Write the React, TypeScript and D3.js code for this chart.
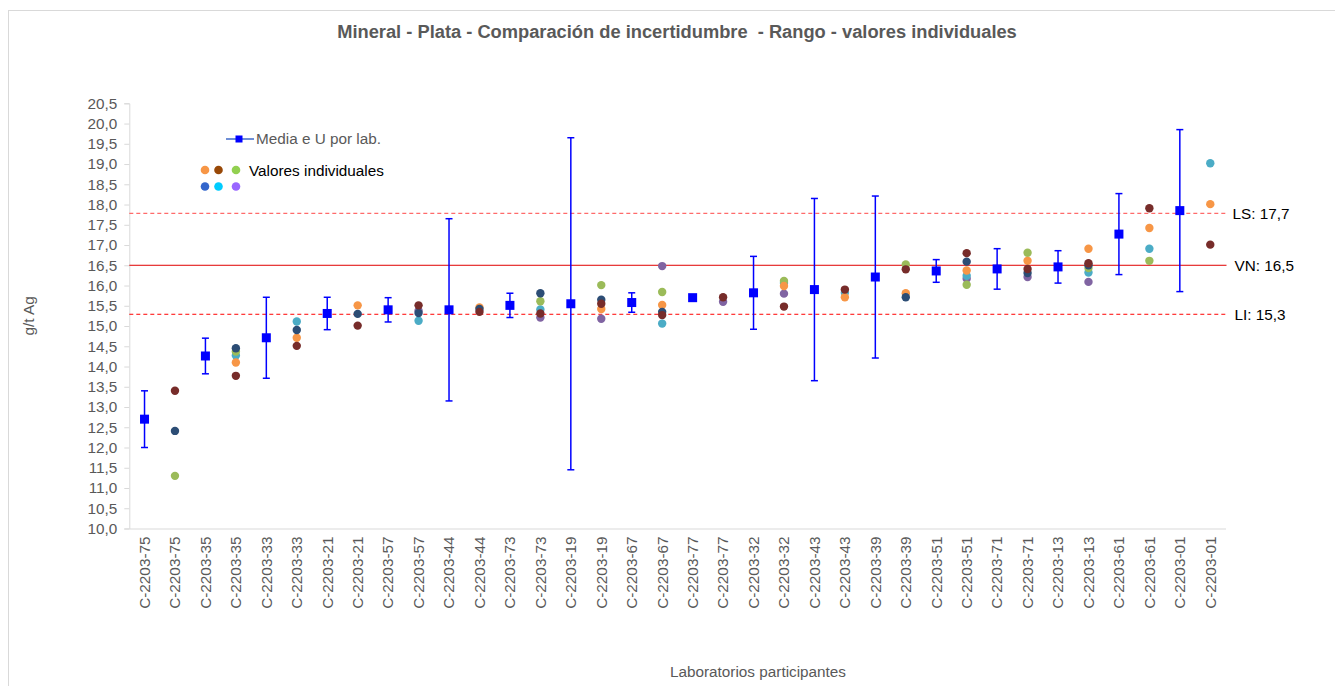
import React, { useRef, useEffect } from 'react'
import * as d3 from 'd3'

// laboratorios (cada uno aparece dos veces: media+U y valores individuales)
const labs = ['75', '35', '33', '21', '57', '44', '73', '19', '67', '77', '32', '43', '39', '51', '71', '13', '61', '01']
const means = [12.7, 14.26, 14.71, 15.31, 15.4, 15.4, 15.51, 15.55, 15.58, 15.7, 15.82, 15.9, 16.21, 16.36, 16.41, 16.46, 17.27, 17.85]
const uncert = [0.7, 0.44, 1.0, 0.4, 0.3, 2.25, 0.3, 4.1, 0.24, 0.04, 0.9, 2.25, 2.0, 0.28, 0.5, 0.4, 1.0, 2.0]

// valores individuales por serie (null = sin dato)
const valsOrange = [null, 14.1, 14.71, 15.51, null, 15.46, null, 15.42, 15.52, null, 15.99, 15.71, 15.81, 16.37, 16.61, 16.91, 17.42, 18.01]
const valsBrown = [13.4, 13.77, 14.51, 15.01, 15.51, 15.35, 15.31, 15.55, 15.27, 15.71, 15.48, 15.9, 16.4, 16.8, 16.41, 16.55, 17.91, 17.01]
const valsGreen = [11.3, 14.37, null, null, null, null, 15.61, 16.01, 15.84, null, 16.11, null, 16.52, 16.02, 16.81, 16.43, 16.61, null]
const valsNavy = [12.41, 14.45, 14.9, 15.3, 15.32, 15.42, 15.81, 15.65, 15.35, null, null, null, 15.71, 16.59, 16.31, 16.5, null, null]
const valsCyan = [null, 14.27, 15.11, null, 15.13, null, 15.41, null, 15.06, null, 16.06, 15.82, null, 16.24, null, 16.32, 16.91, 19.02]
const valsPurple = [null, null, null, null, 15.38, null, 15.21, 15.18, 16.48, 15.6, 15.8, null, null, 16.17, 16.21, 16.09, null, null]

const series = [
  { vals: valsPurple, color: '#8064A2' },
  { vals: valsCyan, color: '#4BACC6' },
  { vals: valsGreen, color: '#9BBB59' },
  { vals: valsOrange, color: '#F79646' },
  { vals: valsNavy, color: '#2C4D75' },
  { vals: valsBrown, color: '#772C2A' },
]

const legendDots = ['#F79646', '#984807', '#92D050', '#3366CC', '#00CCFF', '#9966FF']

const VN = 16.5
const LS = 17.78
const LI = 15.29
const yTicks = d3.range(10, 20.51, 0.5)

const fmt = (v: number) => v.toFixed(1).replace('.', ',')

const W = 1335
const H = 686
const margin = { top: 103.3, left: 129.3, right: 1335 - 1225.5, bottom: 686 - 528.5 }
const FS = 15.3

export default function App() {
  const axRef = useRef<SVGGElement>(null)
  const cats = labs.flatMap((l, i) => [{ key: 'm' + i, lab: 'C-2203-' + l }, { key: 'v' + i, lab: 'C-2203-' + l }])

  const x = d3.scaleBand().domain(cats.map(c => c.key)).range([margin.left, W - margin.right])
  const y = d3.scaleLinear().domain([10, 20.5]).range([H - margin.bottom, margin.top])
  const cx = (k: string) => (x(k) as number) + x.bandwidth() / 2

  useEffect(() => {
    const g = d3.select(axRef.current)
    g.selectAll('*').remove()
    const yAxis = d3.axisLeft(y).tickValues(yTicks).tickFormat(d => fmt(d as number)).tickSize(5).tickPadding(7)
    const ya = g.append('g').attr('transform', `translate(${margin.left},0)`).call(yAxis)
    ya.select('.domain').attr('stroke', '#D9D9D9')
    ya.selectAll('.tick line').attr('stroke', '#D9D9D9')
    ya.selectAll('.tick text').attr('fill', '#595959').attr('font-size', FS).attr('font-family', 'Liberation Sans, Arial, sans-serif')

    const xAxis = d3.axisBottom(x).tickSize(0).tickFormat((k) => cats.find(c => c.key === k)!.lab)
    const xa = g.append('g').attr('transform', `translate(0,${y(10)})`).call(xAxis)
    xa.select('.domain').attr('stroke', '#D9D9D9')
    xa.selectAll('.tick text')
      .attr('fill', '#595959').attr('font-size', FS).attr('font-family', 'Liberation Sans, Arial, sans-serif')
      .attr('transform', 'rotate(-90)').attr('text-anchor', 'end').attr('x', -8).attr('y', 0).attr('dy', '0.35em')
  }, [])

  const x0 = margin.left
  const x1 = W - margin.right
  const font = 'Liberation Sans, Arial, sans-serif'

  return (
    <div style={{ position: 'absolute', left: 0, top: 0 }}>
      <svg width={W} height={H} style={{ display: 'block', fontFamily: font }}>
        <rect x={8.5} y={10.5} width={W} height={H} fill="#fff" stroke="#D9D9D9" />
        <text x={677} y={38} textAnchor="middle" fontSize={18.3} fontWeight="bold" fill="#595959">
          {'Mineral - Plata - Comparación de incertidumbre \u00a0- Rango - valores individuales'}
        </text>
        <g ref={axRef} />
        <text transform={`translate(34,${(y(10) + y(20.5)) / 2}) rotate(-90)`} textAnchor="middle" fontSize={FS} fill="#595959">g/t Ag</text>
        <text x={758} y={677} textAnchor="middle" fontSize={FS} fill="#595959">Laboratorios participantes</text>

        {/* líneas de referencia */}
        <line x1={x0} x2={x1 + 1} y1={y(LS)} y2={y(LS)} stroke="#FF6B6B" strokeWidth={1.3} strokeDasharray="4,3" />
        <line x1={x0} x2={x1 + 1} y1={y(VN)} y2={y(VN)} stroke="#E00000" strokeWidth={1} />
        <line x1={x0} x2={x1 + 1} y1={y(LI)} y2={y(LI)} stroke="#FF0000" strokeWidth={1} strokeDasharray="4,3" />
        <text x={x1 + 7} y={y(LS)} dy="0.35em" fontSize={FS} fill="#000">LS: 17,7</text>
        <text x={x1 + 9} y={y(VN)} dy="0.35em" fontSize={FS} fill="#000">VN: 16,5</text>
        <text x={x1 + 9} y={y(LI)} dy="0.35em" fontSize={FS} fill="#000">LI: 15,3</text>

        {/* valores individuales */}
        {series.map((s, si) => (
          <g key={si}>
            {s.vals.map((v, i) => v == null ? null : (
              <circle key={i} cx={cx('v' + i)} cy={y(v)} r={4.2} fill={s.color} />
            ))}
          </g>
        ))}

        {/* media e U */}
        {means.map((m, i) => {
          const c = cx('m' + i)
          const u = uncert[i]
          return (
            <g key={i}>
              <line x1={c} x2={c} y1={y(m + u)} y2={y(m - u)} stroke="#0000FF" strokeWidth={1.5} />
              <line x1={c - 3.5} x2={c + 3.5} y1={y(m + u)} y2={y(m + u)} stroke="#0000FF" strokeWidth={1.5} />
              <line x1={c - 3.5} x2={c + 3.5} y1={y(m - u)} y2={y(m - u)} stroke="#0000FF" strokeWidth={1.5} />
              <rect x={c - 4.5} y={y(m) - 4.5} width={9} height={9} fill="#0000FF" />
            </g>
          )
        })}

        {/* leyenda */}
        <line x1={226} x2={254} y1={139} y2={139} stroke="#6F8FD6" strokeWidth={2} />
        <rect x={235.5} y={135.5} width={7} height={7} fill="#0000FF" />
        <text x={256} y={139} dy="0.35em" fontSize={FS} fill="#595959">Media e U por lab.</text>
        {legendDots.map((c, i) => (
          <circle key={i} cx={205 + [0, 13.5, 31][i % 3]} cy={170 + Math.floor(i / 3) * 16.5} r={4.3} fill={c} />
        ))}
        <text x={249} y={171} dy="0.35em" fontSize={FS} fill="#000">Valores individuales</text>
      </svg>
    </div>
  )
}
